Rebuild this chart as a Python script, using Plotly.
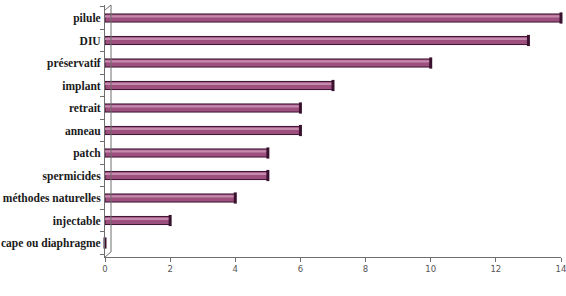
import plotly.graph_objects as go

categories = ["cape ou diaphragme", "injectable", "méthodes naturelles", "spermicides",
              "patch", "anneau", "retrait", "implant", "préservatif", "DIU", "pilule"]
values = [0, 2, 4, 5, 5, 6, 6, 7, 10, 13, 14]
x_ticks = [0, 2, 4, 6, 8, 10, 12, 14]

BASE = "#9d4f7e"
HILITE = "#c68aae"
DARK = "#3a1230"

fig = go.Figure()
fig.add_trace(go.Bar(
    y=categories, x=values, orientation="h",
    width=0.36, offset=-0.18,
    marker=dict(color=BASE, line=dict(color=DARK, width=1)),
    hoverinfo="skip", showlegend=False,
))
fig.add_trace(go.Bar(
    y=categories, x=values, orientation="h",
    width=0.1, offset=0.02,
    marker=dict(color=HILITE, line=dict(width=0)),
    hoverinfo="skip", showlegend=False,
))
fig.add_trace(go.Scatter(
    y=categories, x=values, mode="markers",
    marker=dict(symbol="line-ns-open", size=8, color=DARK, line=dict(color=DARK, width=3)),
    hoverinfo="skip", showlegend=False, cliponaxis=False,
))

fig.update_layout(
    width=566, height=296,
    margin=dict(l=105, r=5, t=5, b=39, autoexpand=False),
    paper_bgcolor="white", plot_bgcolor="white",
    barmode="overlay",
    xaxis=dict(
        range=[0, 14], tickvals=x_ticks, ticktext=[str(v) for v in x_ticks],
        showgrid=False, zeroline=False, automargin=False,
        showline=True, linecolor="#6e6e6e", linewidth=1,
        ticks="outside", ticklen=4, tickcolor="#6e6e6e",
        ticklabeloverflow="allow",
        tickfont=dict(family="DejaVu Sans", size=8.5, color="#555555"),
    ),
    yaxis=dict(
        categoryorder="array", categoryarray=categories,
        range=[-0.622, 10.578], automargin=False,
        showgrid=False, zeroline=False,
        showline=True, linecolor="#6e6e6e", linewidth=1,
        ticks="outside", ticklen=4, tickcolor="#6e6e6e", tickson="boundaries",
        ticklabeloverflow="allow",
        tickfont=dict(family="Liberation Serif", size=11.5, color="#1a1a1a", weight="bold"),
        ticklabelstandoff=1,
    ),
    shapes=[
        dict(type="line", xref="paper", yref="paper", xsizemode="pixel", xanchor=0,
             x0=6, x1=6, y0=0.02, y1=1.0, line=dict(color="#6e6e6e", width=1)),
        dict(type="line", xref="paper", yref="paper", xsizemode="pixel", xanchor=0,
             x0=0, x1=6, y0=0.0, y1=0.02, line=dict(color="#6e6e6e", width=1)),
        dict(type="line", xref="paper", yref="paper", xsizemode="pixel", xanchor=0,
             x0=0, x1=6, y0=0.98, y1=1.0, line=dict(color="#6e6e6e", width=1)),
    ],
)

fig.write_html("out.html")
